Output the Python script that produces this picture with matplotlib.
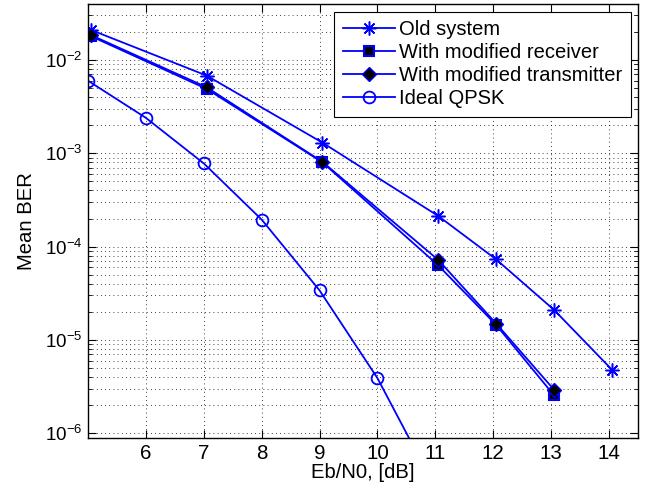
import numpy as np
import matplotlib
matplotlib.use("Agg")
import matplotlib.pyplot as plt
from matplotlib.ticker import LogLocator, NullFormatter

plt.rcParams['font.family'] = ['Liberation Sans', 'DejaVu Sans']
plt.rcParams['mathtext.fontset'] = 'custom'
plt.rcParams['mathtext.rm'] = 'Liberation Sans'
plt.rcParams['mathtext.it'] = 'Liberation Sans:italic'

# data
ebn0_sys = [5.05, 7.05, 9.05, 11.05, 12.05, 13.05, 14.05]
ber_old = [0.021, 0.0068, 1.3e-3, 2.13e-4, 7.3e-5, 2.1e-5, 4.8e-6]

ebn0_mod = [5.05, 7.05, 9.05, 11.05, 12.05, 13.05]
ber_rx = [0.018, 4.9e-3, 8.0e-4, 6.3e-5, 1.45e-5, 2.55e-6]
ber_tx = [0.0185, 5.1e-3, 8.1e-4, 7.2e-5, 1.5e-5, 2.93e-6]

ebn0_ideal = [5, 6, 7, 8, 9, 10, 11]
ber_ideal = [6.0e-3, 2.4e-3, 7.8e-4, 1.95e-4, 3.4e-5, 3.9e-6, 2.6e-7]

labels = ['Old system', 'With modified receiver',
          'With modified transmitter', 'Ideal QPSK']

xfs = 14.8  # x tick labels
yfs = 13.5  # y tick labels (10^k)
fs = 14.6   # axis labels
lfs = 14.5  # legend text

fig = plt.figure(figsize=(6.56, 4.94), dpi=100)
ax = fig.add_axes([0.134, 0.1134, 0.8386, 0.8786])

blue = (0, 0, 1)
asterisk = (8, 2, 0)  # matlab style '*'
ax.semilogy(ebn0_sys, ber_old, '-', color=blue, lw=1.3, marker=asterisk,
            ms=10, mec=blue, mew=1.1, label=labels[0])
ax.semilogy(ebn0_mod, ber_rx, '-', color=blue, lw=1.3, marker='s',
            ms=7.5, mec=blue, mfc='k', mew=1.5, label=labels[1])
ax.semilogy(ebn0_mod, ber_tx, '-', color=blue, lw=1.3, marker='D',
            ms=7, mec=blue, mfc='k', mew=1.0, label=labels[2])
ax.semilogy(ebn0_ideal, ber_ideal, '-', color=blue, lw=1.3, marker='o',
            ms=8.5, mec=blue, mfc='none', mew=1.3, label=labels[3])

ax.set_xlim(5, 14.5)
ax.set_ylim(10**-6.05, 10**-1.4)
ax.set_xticks(np.arange(6, 15))
ax.yaxis.set_major_locator(LogLocator(base=10, numticks=20))
ax.yaxis.set_minor_locator(LogLocator(base=10, subs=np.arange(2, 10), numticks=20))
ax.yaxis.set_minor_formatter(NullFormatter())

ax.tick_params(which='both', direction='in', top=True, right=True)
ax.tick_params(which='major', length=6, width=0.8)
ax.tick_params(which='minor', length=3, width=0.6)
ax.tick_params(axis='x', labelsize=xfs, pad=4)
ax.tick_params(axis='y', labelsize=yfs, pad=4)

ax.grid(True, which='major', axis='both', linestyle=(0, (1, 4)), color='k', lw=0.6)
ax.grid(True, which='minor', axis='y', linestyle=(0, (1, 4)), color='k', lw=0.6)

for s in ax.spines.values():
    s.set_linewidth(1.0)

ax.set_xlabel('Eb/N0, [dB]', fontsize=fs, labelpad=0.5)
ax.set_ylabel('Mean BER', fontsize=fs, labelpad=6.5)

leg = ax.legend(loc='upper right', bbox_to_anchor=(0.987, 0.9816),
                borderaxespad=0, fancybox=False, framealpha=1, edgecolor='k',
                handlelength=2.6, labelspacing=0.2, borderpad=0.42,
                handletextpad=0.2, fontsize=lfs)
leg.get_frame().set_linewidth(0.8)

fig.savefig('out.png', dpi=100)
